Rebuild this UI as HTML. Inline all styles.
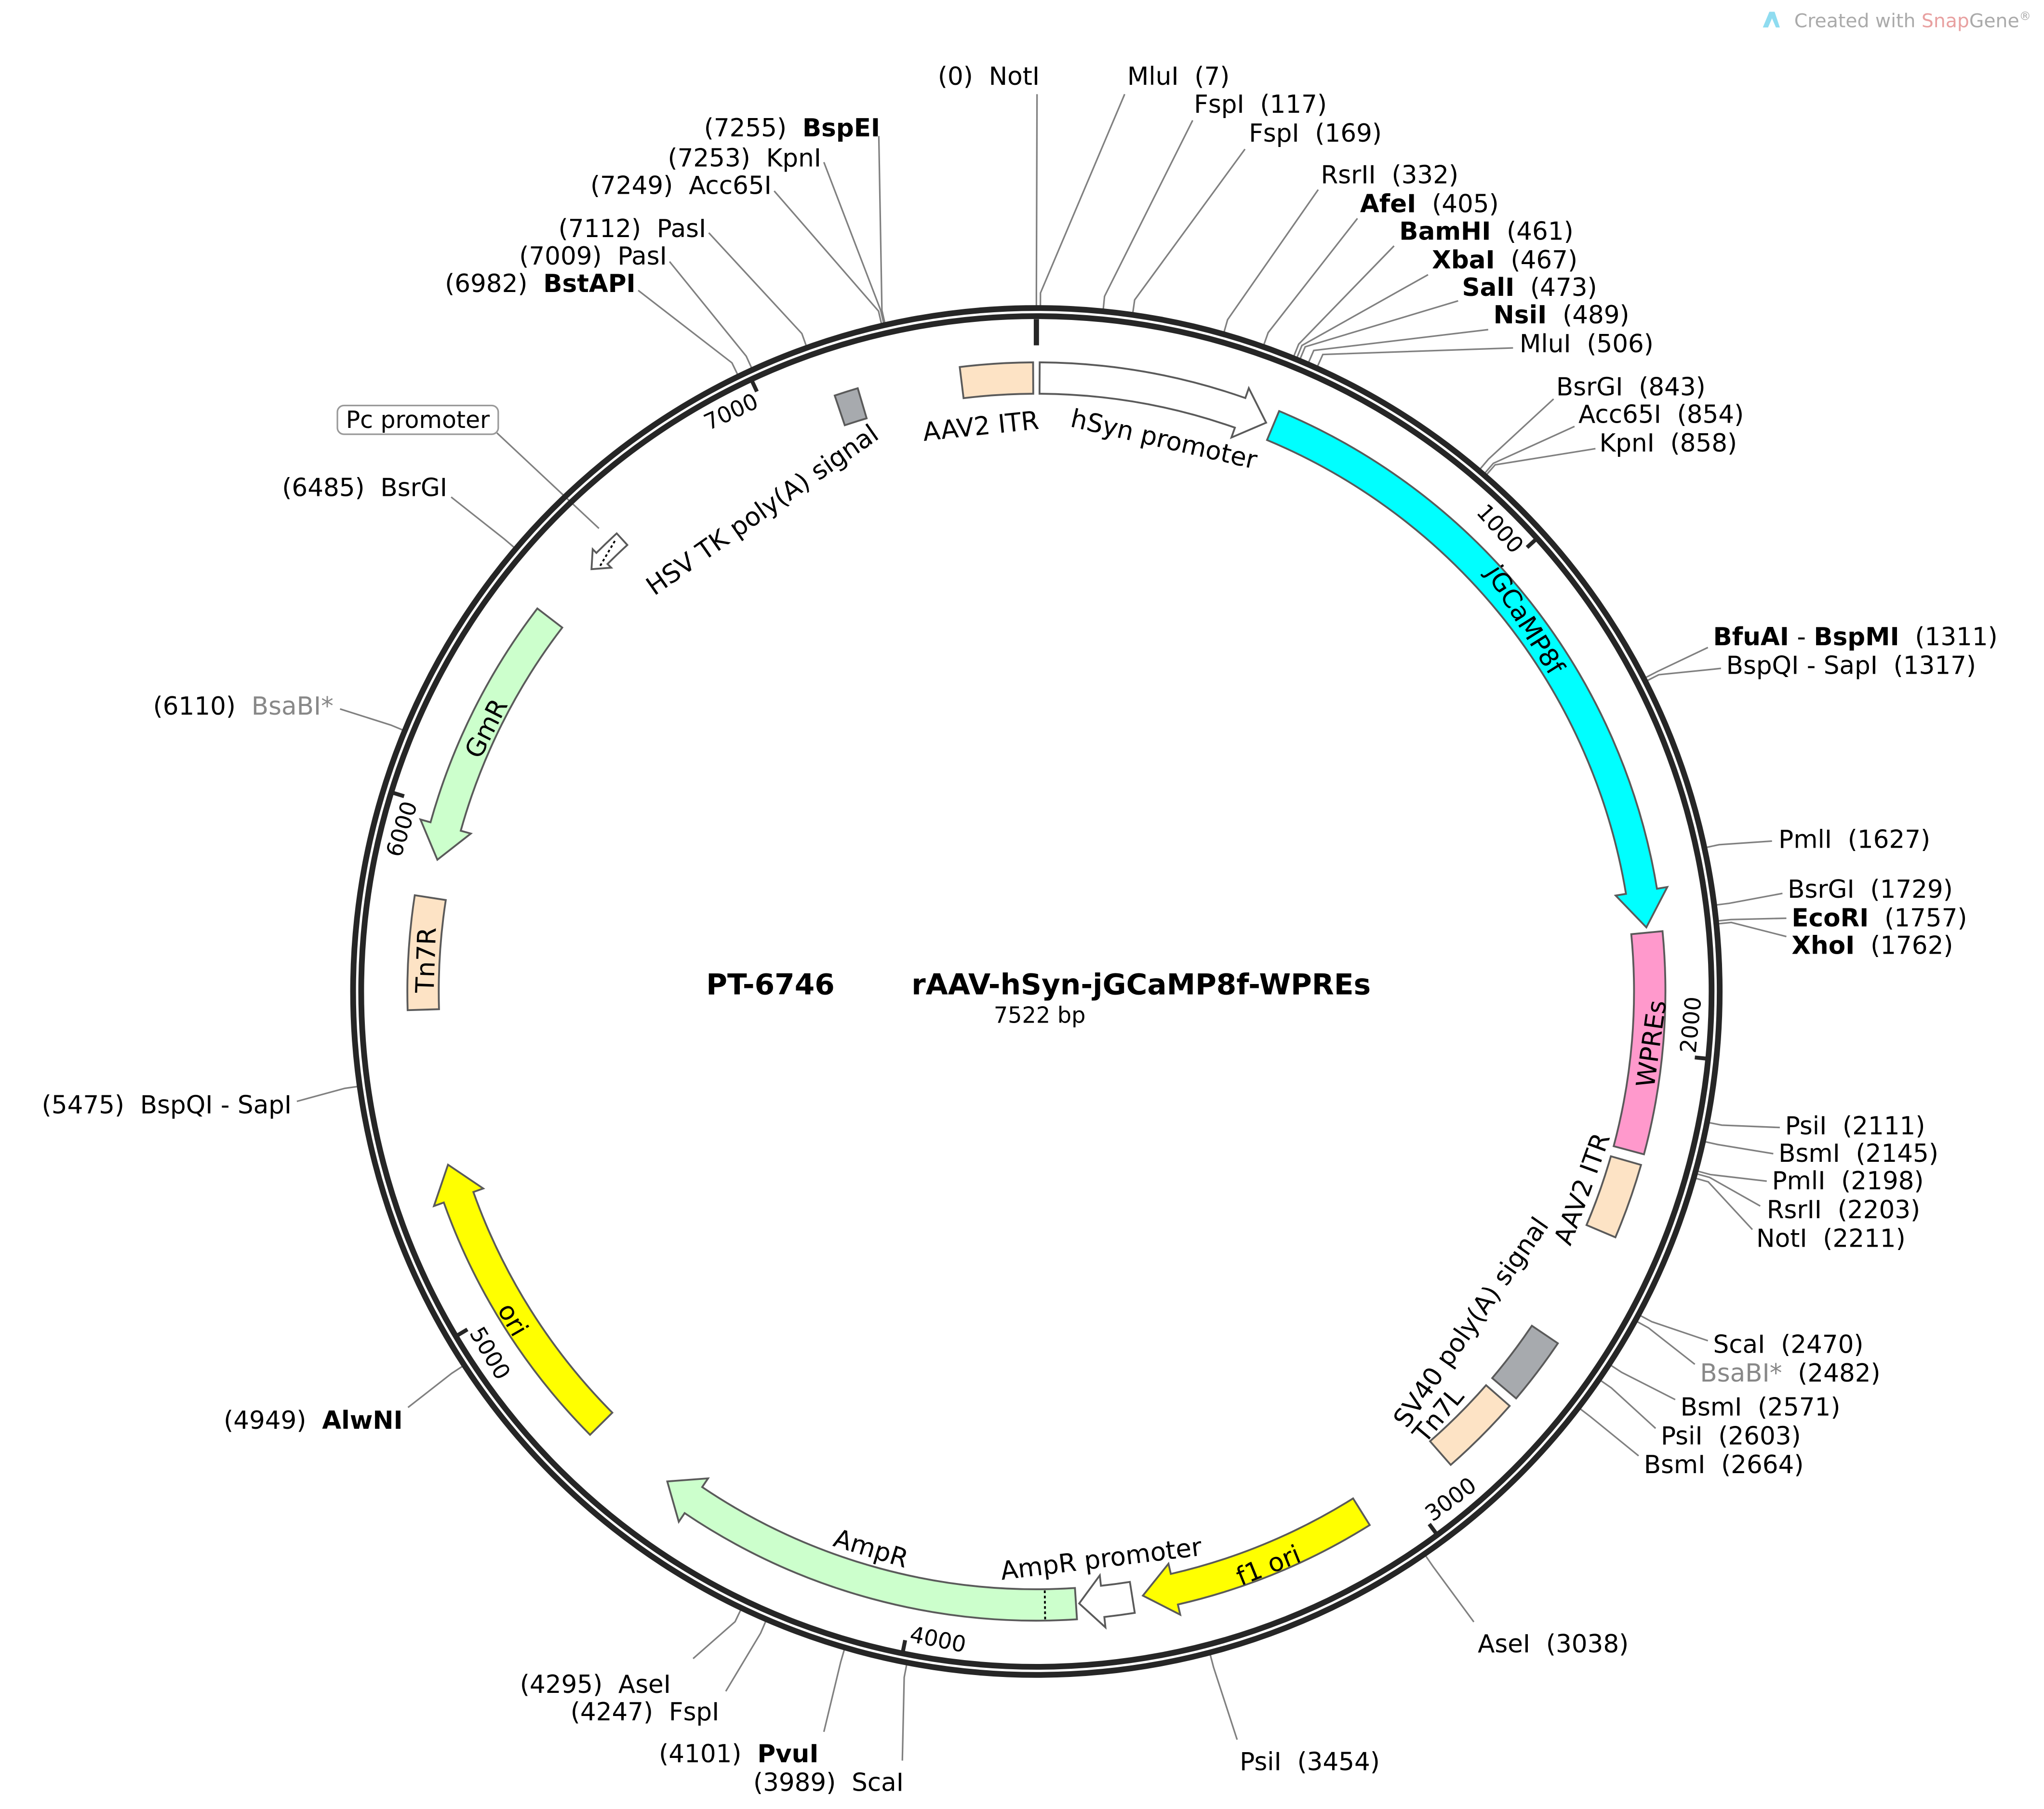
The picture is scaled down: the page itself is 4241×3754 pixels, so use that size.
<!DOCTYPE html>
<html><head><meta charset="utf-8"><style>
html,body{margin:0;padding:0;background:#fff;}
svg{display:block;}
text{font-family:"DejaVu Sans","Liberation Sans",sans-serif;fill:#000;white-space:pre;}
.e{font-size:19px;dominant-baseline:central;}
.f{font-size:19.5px;dominant-baseline:central;text-anchor:middle;}
.t{font-size:17px;dominant-baseline:central;text-anchor:middle;}
.b{font-weight:bold;}
.g{fill:#888;}
</style></head><body>
<svg id="s" width="4241" height="3754" viewBox="0 0 1563 1383" preserveAspectRatio="none" xmlns="http://www.w3.org/2000/svg">
<rect width="1563" height="1383" fill="#fff"/>
<g id="lines" stroke="#808080" stroke-width="1.2" fill="none"></g>
<line x1="380" y1="331" x2="458" y2="404" stroke="#808080" stroke-width="1.2"/>
<circle cx="792.5" cy="758" r="522.5" fill="none" stroke="#262626" stroke-width="4.4"/>
<circle cx="792.5" cy="758" r="516.3" fill="none" stroke="#262626" stroke-width="4.4"/>
<g id="ticks" stroke="#262626"></g>
<g id="feats" stroke="#5a5a5a" stroke-width="1.4"></g>
<g id="ticklabels"></g>

<!-- watermark -->
<path d="M1348 21 L1353 9 L1357 9 L1361 21 L1358 21 L1355 14 L1352 21 Z" fill="#8fdcf0"/>
<text x="1372" y="16" style="font-size:14.5px;dominant-baseline:central;fill:#aaa">Created with <tspan style="fill:#e8a0a0">Snap</tspan>Gene<tspan style="font-size:9px" dy="-4">®</tspan></text>

<!-- title -->
<text x="540" y="753" class="b" style="font-size:22px;dominant-baseline:central">PT-6746</text>
<text x="697" y="753" class="b" style="font-size:22px;dominant-baseline:central">rAAV-hSyn-jGCaMP8f-WPREs</text>
<text x="795" y="776" style="font-size:17px;dominant-baseline:central;text-anchor:middle">7522 bp</text>

<!-- top/right enzyme labels -->
<text class="e" x="795" y="58.5" text-anchor="end">(0)  NotI</text>
<text class="e" x="862" y="58.5">MluI  (7)</text>
<text class="e" x="913" y="80">FspI  (117)</text>
<text class="e" x="955" y="102">FspI  (169)</text>
<text class="e" x="1010" y="134">RsrII  (332)</text>
<text class="e" x="1040" y="156"><tspan class="b">AfeI</tspan>  (405)</text>
<text class="e" x="1070" y="177"><tspan class="b">BamHI</tspan>  (461)</text>
<text class="e" x="1095" y="199"><tspan class="b">XbaI</tspan>  (467)</text>
<text class="e" x="1118" y="220"><tspan class="b">SalI</tspan>  (473)</text>
<text class="e" x="1142" y="241"><tspan class="b">NsiI</tspan>  (489)</text>
<text class="e" x="1162" y="263">MluI  (506)</text>
<text class="e" x="1190" y="296">BsrGI  (843)</text>
<text class="e" x="1207" y="317">Acc65I  (854)</text>
<text class="e" x="1223" y="339">KpnI  (858)</text>
<text class="e" x="1310" y="487"><tspan class="b">BfuAI</tspan> - <tspan class="b">BspMI</tspan>  (1311)</text>
<text class="e" x="1320" y="509">BspQI - SapI  (1317)</text>
<text class="e" x="1360" y="642">PmlI  (1627)</text>
<text class="e" x="1367" y="680">BsrGI  (1729)</text>
<text class="e" x="1370" y="702"><tspan class="b">EcoRI</tspan>  (1757)</text>
<text class="e" x="1370" y="723"><tspan class="b">XhoI</tspan>  (1762)</text>
<text class="e" x="1365" y="861">PsiI  (2111)</text>
<text class="e" x="1360" y="882">BsmI  (2145)</text>
<text class="e" x="1355" y="903">PmlI  (2198)</text>
<text class="e" x="1351" y="925">RsrII  (2203)</text>
<text class="e" x="1343" y="947">NotI  (2211)</text>
<text class="e" x="1310" y="1028">ScaI  (2470)</text>
<text class="e" x="1300" y="1050"><tspan class="g">BsaBI*</tspan>  (2482)</text>
<text class="e" x="1285" y="1076">BsmI  (2571)</text>
<text class="e" x="1270" y="1098">PsiI  (2603)</text>
<text class="e" x="1257" y="1120">BsmI  (2664)</text>
<text class="e" x="1130" y="1257">AseI  (3038)</text>
<text class="e" x="948" y="1347">PsiI  (3454)</text>
<!-- left labels -->
<text class="e" x="691" y="1363" text-anchor="end">(3989)  ScaI</text>
<text class="e" x="626" y="1341" text-anchor="end">(4101)  <tspan class="b">PvuI</tspan></text>
<text class="e" x="550" y="1309" text-anchor="end">(4247)  FspI</text>
<text class="e" x="513" y="1288" text-anchor="end">(4295)  AseI</text>
<text class="e" x="308" y="1086" text-anchor="end">(4949)  <tspan class="b">AlwNI</tspan></text>
<text class="e" x="223" y="845" text-anchor="end">(5475)  BspQI - SapI</text>
<text class="e" x="255" y="540" text-anchor="end">(6110)  <tspan class="g">BsaBI*</tspan></text>
<text class="e" x="342" y="373" text-anchor="end">(6485)  BsrGI</text>
<text class="e" x="486" y="217" text-anchor="end">(6982)  <tspan class="b">BstAPI</tspan></text>
<text class="e" x="510" y="196" text-anchor="end">(7009)  PasI</text>
<text class="e" x="540" y="175" text-anchor="end">(7112)  PasI</text>
<text class="e" x="590" y="142" text-anchor="end">(7249)  Acc65I</text>
<text class="e" x="628" y="121" text-anchor="end">(7253)  KpnI</text>
<text class="e" x="673" y="98" text-anchor="end">(7255)  <tspan class="b">BspEI</tspan></text>

<!-- Pc promoter box -->
<rect x="258" y="310" width="123" height="22" rx="5" fill="#fff" stroke="#999" stroke-width="1.2"/>
<text x="319.5" y="321" style="font-size:18px;dominant-baseline:central;text-anchor:middle">Pc promoter</text>

<!-- feature labels -->
<text class="f" transform="translate(750,326) rotate(-6)">AAV2 ITR</text>
<text class="f" transform="translate(890,336) rotate(13)">hSyn promoter</text>
<text class="f" transform="translate(1166,474) rotate(58)">jGCaMP8f</text>
<text class="f" transform="translate(1263,798) rotate(-82)">WPREs</text>
<text class="f" transform="translate(1210,909) rotate(-70)">AAV2 ITR</text>
<text class="f" transform="translate(1125,1011) rotate(-55)">SV40 poly(A) signal</text>
<text class="f" transform="translate(1100,1082) rotate(-50)">Tn7L</text>
<text class="f" transform="translate(970,1197) rotate(-22)">f1 ori</text>
<text class="f" transform="translate(842,1192) rotate(-7)">AmpR promoter</text>
<text class="f" transform="translate(666,1184) rotate(17)">AmpR</text>
<text class="f" transform="translate(392,1009) rotate(60)">ori</text>
<text class="f" transform="translate(326,734) rotate(-88)">Tn7R</text>
<text class="f" transform="translate(372,557) rotate(-63)">GmR</text>
<text class="f" transform="translate(583,390) rotate(-35)">HSV TK poly(A) signal</text>
</svg>
<script>
(function(){
var NS="http://www.w3.org/2000/svg",cx=792.5,cy=758;
function P(r,a){var t=a*Math.PI/180;return [cx+r*Math.sin(t),cy-r*Math.cos(t)];}
function f(p){return p[0].toFixed(2)+" "+p[1].toFixed(2);}
function el(g,tag,attrs,txt){var e=document.createElementNS(NS,tag);for(var k in attrs)e.setAttribute(k,attrs[k]);if(txt)e.textContent=txt;document.getElementById(g).appendChild(e);return e;}
var L=[[0,793,72],[7,860,72],[117,912,92],[169,952,114],[332,1008,145],[405,1038,167],[461,1066,188],[467,1092,210],[473,1115,230],[489,1138,252],[506,1157,266],[843,1188,305],[854,1204,326],[858,1220,343],[1311,1306,495],[1317,1316,511],[1627,1355,643],[1729,1363,683],[1757,1366,702],[1762,1366,716],[2111,1361,862],[2145,1356,882],[2198,1351,903],[2203,1346,922],[2211,1340,940],[2470,1306,1025],[2482,1296,1043],[2571,1281,1070],[2603,1266,1092],[2664,1253,1113],[3038,1127,1240],[3454,946,1330],[3989,690,1346],[4101,630,1324],[4247,555,1293],[4295,530,1268],[4949,312,1076],[5475,227,842],[6110,260,542],[6485,345,380],[6982,488,222],[7009,512,200],[7112,542,178],[7249,592,146],[7253,630,124],[7255,672,104]];
L.forEach(function(l){var a=l[0]*360/7522;el("lines","polyline",{points:f(P(524.5,a))+" "+f(P(534,a))+" "+l[1]+" "+l[2]});});
el("ticks","line",{x1:792.5,y1:758-514,x2:792.5,y2:758-494,"stroke-width":4});
for(var k=1;k<=7;k++){var a=k*1000*360/7522,p1=P(515,a),p2=P(506,a);
el("ticks","line",{x1:p1[0],y1:p1[1],x2:p2[0],y2:p2[1],"stroke-width":3});
var q=P(501,a-2.8),rot=(a>90&&a<270)?a-180:(a>=270?a-360:a);
el("ticklabels","text",{"class":"t",transform:"translate("+q[0].toFixed(2)+","+q[1].toFixed(2)+") rotate("+rot.toFixed(1)+")"},String(k*1000));}
function feat(a1,a2,fill,dir,opt){opt=opt||{};var ri=opt.ri||457,ro=opt.ro||481,h=opt.h||3,w=opt.w||8,m=(ri+ro)/2,d;
function lg(x,y){return Math.abs(y-x)>180?1:0;}
if(dir==0){d="M"+f(P(ro,a1))+" A"+ro+" "+ro+" 0 "+lg(a1,a2)+" 1 "+f(P(ro,a2))+" L"+f(P(ri,a2))+" A"+ri+" "+ri+" 0 "+lg(a1,a2)+" 0 "+f(P(ri,a1))+" Z";}
else if(dir==1){var b=a2-h;d="M"+f(P(ro,a1))+" A"+ro+" "+ro+" 0 "+lg(a1,b)+" 1 "+f(P(ro,b))+" L"+f(P(ro+w,b))+" L"+f(P(m,a2))+" L"+f(P(ri-w,b))+" L"+f(P(ri,b))+" A"+ri+" "+ri+" 0 "+lg(a1,b)+" 0 "+f(P(ri,a1))+" Z";}
else{var b=a1+h;d="M"+f(P(ro,b))+" A"+ro+" "+ro+" 0 "+lg(b,a2)+" 1 "+f(P(ro,a2))+" L"+f(P(ri,a2))+" A"+ri+" "+ri+" 0 "+lg(b,a2)+" 0 "+f(P(ri,b))+" L"+f(P(ri-w,b))+" L"+f(P(m,a1))+" L"+f(P(ro+w,b))+" Z";}
return el("feats","path",{d:d,fill:fill});}
feat(-7,-0.3,"#fde3c5",0);
feat(0.3,22,"#ffffff",1,{h:2.6});
feat(22.7,84,"#00ffff",1,{h:3.4});
feat(84.5,105,"#ff99cc",0);
feat(106,113,"#fde3c5",0);
feat(124,130.3,"#a7aaae",0);
feat(131.2,138.8,"#fde3c5",0);
feat(148,170,"#ffff00",1,{h:3});
feat(171,176,"#ffffff",1,{h:2.2});
feat(176.3,217,"#ccffcc",1,{h:3});
feat(225.2,253.6,"#ffff00",1,{h:3.2});
feat(268.3,278.8,"#fde3c5",0);
feat(282.4,307.5,"#ccffcc",-1,{h:3.2});
feat(313.5,317.5,"#ffffff",-1,{h:1.4,ri:463,ro:475,w:4});
feat(341.3,343.5,"#a7aaae",0);
var p1=P(458,179.2),p2=P(480,179.2);
el("feats","line",{x1:p1[0],y1:p1[1],x2:p2[0],y2:p2[1],stroke:"#000","stroke-width":1.4,"stroke-dasharray":"2,2"});
var q1=P(466,314.3),q2=P(472,317);
el("feats","line",{x1:q1[0],y1:q1[1],x2:q2[0],y2:q2[1],stroke:"#000","stroke-width":1.4,"stroke-dasharray":"2,2"});
})();
</script>
</body></html>
